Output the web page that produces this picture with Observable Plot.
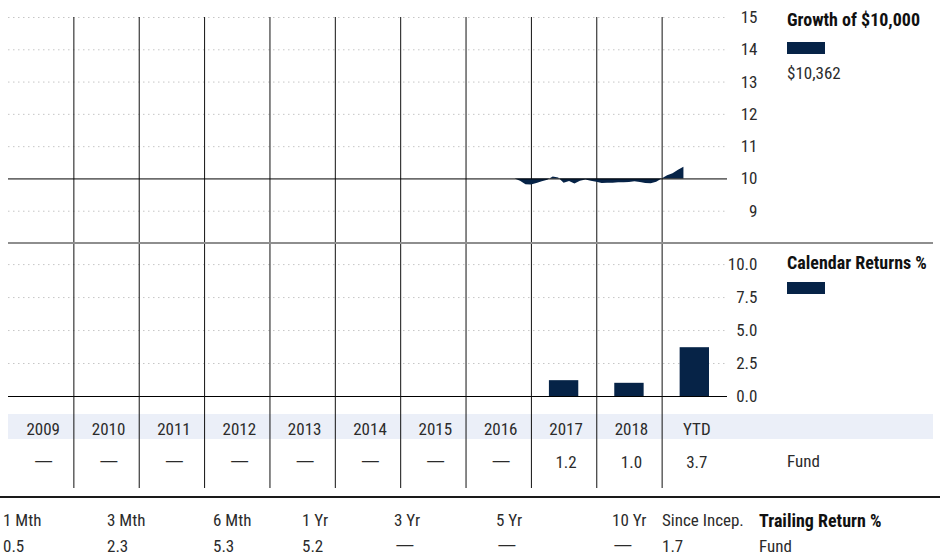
<!DOCTYPE html>
<html><head><meta charset="utf-8">
<script src="https://cdn.jsdelivr.net/npm/d3@7"></script>
<script src="https://cdn.jsdelivr.net/npm/@observablehq/plot@0.6"></script>
<style>
body{margin:0;background:#fff;}
#wrap{position:relative;width:949px;height:558px;overflow:hidden;font-family:"Roboto Condensed","DejaVu Sans Condensed","Liberation Sans Narrow",sans-serif;color:#2b2b2b;}
#wrap svg{position:absolute;left:0;top:0;background:transparent;overflow:visible;font-family:"Roboto Condensed","DejaVu Sans Condensed","Liberation Sans Narrow",sans-serif;font-size:17px;}
.lbl{position:absolute;white-space:nowrap;font-size:17px;line-height:17px;}
.b{font-weight:bold;color:#111;font-size:18px;}
.box{position:absolute;}
</style></head><body><div id="wrap"></div>
<script>
// ---------------- data ----------------
const columnLabels = ["2009","2010","2011","2012","2013","2014","2015","2016","2017","2018","YTD"];
const calendarReturns = [null,null,null,null,null,null,null,null,1.2,1.0,3.7];
const growthMonths = ["2016-09","2016-10","2016-11","2016-12",
  "2017-01","2017-02","2017-03","2017-04","2017-05","2017-06","2017-07","2017-08","2017-09","2017-10","2017-11","2017-12",
  "2018-01","2018-02","2018-03","2018-04","2018-05","2018-06","2018-07","2018-08","2018-09","2018-10","2018-11","2018-12",
  "2019-01","2019-02","2019-03","2019-04"];
const growthValues = [10.00,9.93,9.82,9.81,
  9.86,9.91,9.96,10.06,10.03,9.87,9.92,9.84,9.93,9.97,9.93,9.90,
  9.86,9.87,9.87,9.88,9.88,9.89,9.91,9.89,9.86,9.85,9.90,10.00,
  10.10,10.16,10.27,10.362];
const growthTicks = [9,10,11,12,13,14,15];
const returnTicks = [0,2.5,5,7.5,10];
const trailingLabels = ["1 Mth","3 Mth","6 Mth","1 Yr","3 Yr","5 Yr","10 Yr","Since Incep."];
const trailingValues = [0.5,2.3,5.3,5.2,null,null,null,1.7];
const growthEndLabel = "$10,362";

// ---------------- layout ----------------
const W = 949, H = 558;
const navy = "#062347";
const wrap = document.getElementById("wrap");
const frame = {width:W, height:H, marginLeft:8, marginRight:222, marginTop:0, marginBottom:0};
const xScale = {type:"linear", domain:[2009,2020], range:[8,727], axis:null};
const dotted = {stroke:"#c6c6c6", strokeDasharray:"1.5,3.5"};
const firstCol = 2009;
const cols = columnLabels.map((label,i)=>({label, x:firstCol+i, v:calendarReturns[i]}));
const dividers = cols.slice(1).map(d=>d.x);
const growth = growthMonths.map((m,i)=>{const [y,mo]=m.split("-").map(Number); return {t:y+mo/12, v:growthValues[i]};});
const DASH = "—";
const fmtRet = v => v==null ? DASH : v.toFixed(1);

function box(x,y,w,h,color){const d=document.createElement("div");d.className="box";Object.assign(d.style,{left:x+"px",top:y+"px",width:w+"px",height:h+"px",background:color});wrap.appendChild(d);return d;}
function label(text,x,yc,cls){const s=document.createElement("span");s.className="lbl"+(cls?" "+cls:"");s.textContent=text;s.style.left=x+"px";s.style.top=(yc-9)+"px";wrap.appendChild(s);return s;}

// background band behind table header
box(8,414,925,25,"#ebeff8");

// Growth panel
wrap.appendChild(Plot.plot({
  ...frame, x:xScale, y:{domain:[8,15], range:[243,17], axis:null},
  marks:[
    Plot.ruleY(growthTicks.filter(d=>d!==10), dotted),
    Plot.ruleX(dividers, {y1:8, y2:15, stroke:"#111"}),
    Plot.areaY(growth, {x:"t", y1:10, y2:"v", fill:navy}),
    Plot.ruleY([10], {stroke:"#000"}),
    Plot.text(growthTicks, {y:d=>d, text:d=>String(d), frameAnchor:"right", dx:30, textAnchor:"end", fill:"#2b2b2b"})
  ]
}));

// Calendar returns panel
wrap.appendChild(Plot.plot({
  ...frame, x:xScale, y:{domain:[0,11.6], range:[396,243], axis:null},
  marks:[
    Plot.ruleY(returnTicks.filter(d=>d!==0), dotted),
    Plot.ruleX(dividers, {y1:0, y2:11.6, stroke:"#111"}),
    Plot.rect(cols.filter(d=>d.v!=null), {x1:"x", x2:d=>d.x+1, y1:0, y2:"v", insetLeft:18, insetRight:18, fill:navy}),
    Plot.ruleY([0], {stroke:"#000"}),
    Plot.text(returnTicks, {y:d=>d, text:d=>d.toFixed(1), frameAnchor:"right", dx:30, textAnchor:"end", fill:"#2b2b2b"})
  ]
}));

// Table panel (pixel y)
const table = Plot.plot({
  ...frame, x:xScale, y:{domain:[0,H], range:[0,H], axis:null},
  marks:[
    Plot.ruleX(dividers, {y1:396, y2:488, stroke:"#111"}),
    Plot.text(cols, {x:d=>d.x+0.5, y:429, dx:2, text:"label", fill:"#2b2b2b"}),
    Plot.text(cols, {x:d=>d.x+0.5, y:462, dx:2, text:d=>fmtRet(d.v), fill:"#2b2b2b"})
  ]
});
wrap.appendChild(table);

// separators
box(8,242,925,2,"#8e8e8e");
box(0,496,940,2,"#1a1a1a");

// legends
label("Growth of $10,000",787,20,"b");
box(787,42,38,12,navy);
label(growthEndLabel,787,74);
label("Calendar Returns %",787,263,"b");
box(787,282,38,12,navy);
label("Fund",787,462);

// trailing returns
const trailingX = [3,107,213,302,394,496,612,662];
trailingLabels.forEach((t,i)=>label(t,trailingX[i],521));
const dashSpans = [];
trailingValues.forEach((v,i)=>{const s=label(fmtRet(v),trailingX[i],547); if(v==null) dashSpans.push(s);});
label("Trailing Return %",759,521,"b");
label("Fund",759,547);

// widen dash glyphs to the reference's long rule-like dash
const DASH_W = 21;
table.querySelectorAll("text").forEach(t=>{
  if(t.textContent!==DASH) return;
  const b=t.getBBox(); const s=DASH_W/(b.width||1); const cx=b.x+b.width/2;
  const tr=t.getAttribute("transform")||"";
  t.setAttribute("transform", `${tr} translate(${cx},0) scale(${s},1) translate(${-cx},0)`);
});
dashSpans.forEach(s=>{const w=s.getBoundingClientRect().width||1;s.style.transformOrigin="left center";s.style.transform=`scaleX(${DASH_W/w})`;});
</script></body></html>
